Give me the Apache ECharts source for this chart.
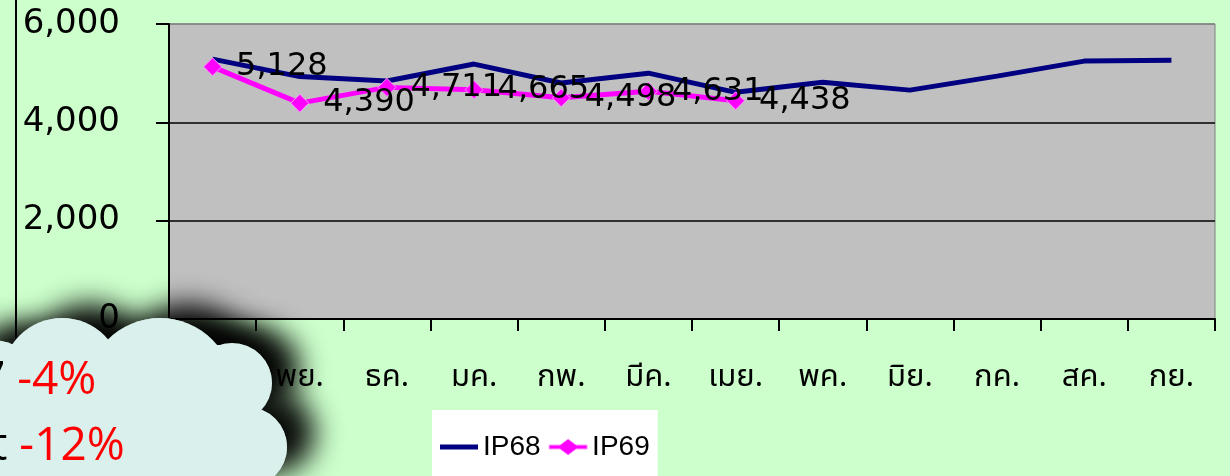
<!DOCTYPE html>
<html>
<head>
<meta charset="utf-8">
<script src="https://cdn.jsdelivr.net/npm/echarts@6.0.0/dist/echarts.min.js"></script>
<style>
  html, body { margin: 0; padding: 0; background: #CCFFCC; }
  #chart { width: 1230px; height: 476px; }
</style>
</head>
<body>
<div id="chart"></div>
<script>
var months = ['ตค.', 'พย.', 'ธค.', 'มค.', 'กพ.', 'มีค.', 'เมย.', 'พค.', 'มิย.', 'กค.', 'สค.', 'กย.'];
var ip68 = [5286, 4930, 4840, 5185, 4800, 5000, 4610, 4815, 4655, 4940, 5245, 5265];
var ip69 = [5128, 4390, 4711, 4665, 4498, 4631, 4438];
var yTicks = [0, 2000, 4000, 6000];
var cloudLines = [['7', '-4%'], ['t', '-12%']];

var myChart = echarts.init(document.getElementById('chart'));

function addCommas(v) {
  return String(v).replace(/\B(?=(\d{3})+(?!\d))/g, ',');
}

// cloud made of circles: first pass casts the shadow, second pass is the clean fill
var cloudFill = '#DAF0EC';
var cloudShapes = [
  { type: 'circle', shape: { cx: 62, cy: 378, r: 60 } },
  { type: 'circle', shape: { cx: 160, cy: 392, r: 74 } },
  { type: 'circle', shape: { cx: 232, cy: 383, r: 40 } },
  { type: 'circle', shape: { cx: 247, cy: 447, r: 40 } },
  { type: 'rect', shape: { x: -20, y: 345, width: 250, height: 150 } },
  { type: 'circle', shape: { cx: -10, cy: 400, r: 60 } }
];

function cloudPart(withShadow, z) {
  return cloudShapes.map(function (s) {
    var style = { fill: cloudFill };
    if (withShadow) {
      style.shadowColor = 'rgba(0,0,0,0.95)';
      style.shadowBlur = 28;
      style.shadowOffsetX = 28;
      style.shadowOffsetY = -14;
    }
    return { type: s.type, shape: s.shape, style: style, z: z, silent: true };
  });
}

var graphics = [
  { type: 'line', shape: { x1: 16, y1: 0, x2: 16, y2: 340 }, style: { stroke: '#000', lineWidth: 2 }, z: 5 }
].concat(cloudPart(true, 100)).concat(cloudPart(false, 101));

cloudLines.forEach(function (l, i) {
  graphics.push({
    type: 'text',
    left: [-21, -9][i],
    top: [358, 424][i],
    z: 102,
    style: {
      text: '{k|' + l[0] + '} {r|' + l[1] + '}',
      rich: {
        k: { fill: '#000', fontSize: 46, fontFamily: 'Open Sans' },
        r: { fill: '#FF0000', fontSize: 46, fontFamily: 'Open Sans' }
      },
      fontSize: 46,
      fontFamily: 'Open Sans'
    }
  });
});

var thaiFont = 'Noto Sans Thai, Loma, Garuda, Sawasdee, Umpush, Waree, Noto Sans, sans-serif';

var option = {
  animation: false,
  backgroundColor: '#CCFFCC',
  grid: {
    left: 169,
    top: 24,
    right: 15,
    bottom: 157,
    show: true,
    backgroundColor: '#C0C0C0',
    borderColor: '#808080',
    borderWidth: 1,
    outerBoundsMode: 'none'
  },
  legend: {
    left: 432,
    top: 410,
    backgroundColor: '#FFFFFF',
    padding: [23, 8, 30, 8],
    itemWidth: 38,
    itemHeight: 16,
    itemGap: 8,
    textStyle: { fontSize: 28, color: '#000', fontFamily: 'Liberation Sans Narrow, Liberation Sans' },
    data: [
      { name: 'IP68', icon: 'path://M0,0 H38 V5 H0 Z', itemStyle: { color: '#000080', borderWidth: 0 } },
      { name: 'IP69', icon: 'path://M0,6 H11 L19,0 L27,6 H38 V10 H27 L19,16 L11,10 H0 Z', itemStyle: { color: '#FF00FF', borderColor: '#FF99FF', borderWidth: 1 } }
    ]
  },
  xAxis: {
    type: 'category',
    data: months,
    boundaryGap: true,
    axisLine: { lineStyle: { color: '#000', width: 2 } },
    axisTick: { show: true, length: 12, lineStyle: { color: '#000', width: 2 } },
    axisLabel: { color: '#000', fontSize: 31, margin: 45, interval: 0, fontFamily: thaiFont },
    splitLine: { show: false }
  },
  yAxis: {
    type: 'value',
    min: yTicks[0],
    max: yTicks[yTicks.length - 1],
    interval: 2000,
    axisLine: { show: true, lineStyle: { color: '#000', width: 2 } },
    axisTick: { show: true, length: 13, lineStyle: { color: '#000', width: 2 } },
    axisLabel: {
      color: '#000',
      fontSize: 34,
      margin: 49,
      fontFamily: 'DejaVu Sans',
      formatter: function (v) { return addCommas(v); }
    },
    splitLine: { show: true, lineStyle: { color: ['#000', '#000', '#000', '#808080'], width: 1.5 } }
  },
  series: [
    {
      name: 'IP68',
      type: 'line',
      data: ip68,
      symbol: 'none',
      lineStyle: { color: '#000080', width: 5 },
      itemStyle: { color: '#000080' },
      z: 3
    },
    {
      name: 'IP69',
      type: 'line',
      data: ip69,
      symbol: 'diamond',
      symbolSize: 18,
      lineStyle: { color: '#FF00FF', width: 5 },
      itemStyle: { color: '#FF00FF', borderColor: '#FF99FF', borderWidth: 1 },
      label: {
        show: true,
        position: 'right',
        distance: 14,
        color: '#000',
        fontSize: 32,
        fontFamily: 'DejaVu Sans',
        formatter: function (p) { return addCommas(p.value); }
      },
      z: 4
    }
  ],
  graphic: graphics
};

myChart.setOption(option);
</script>
</body>
</html>
